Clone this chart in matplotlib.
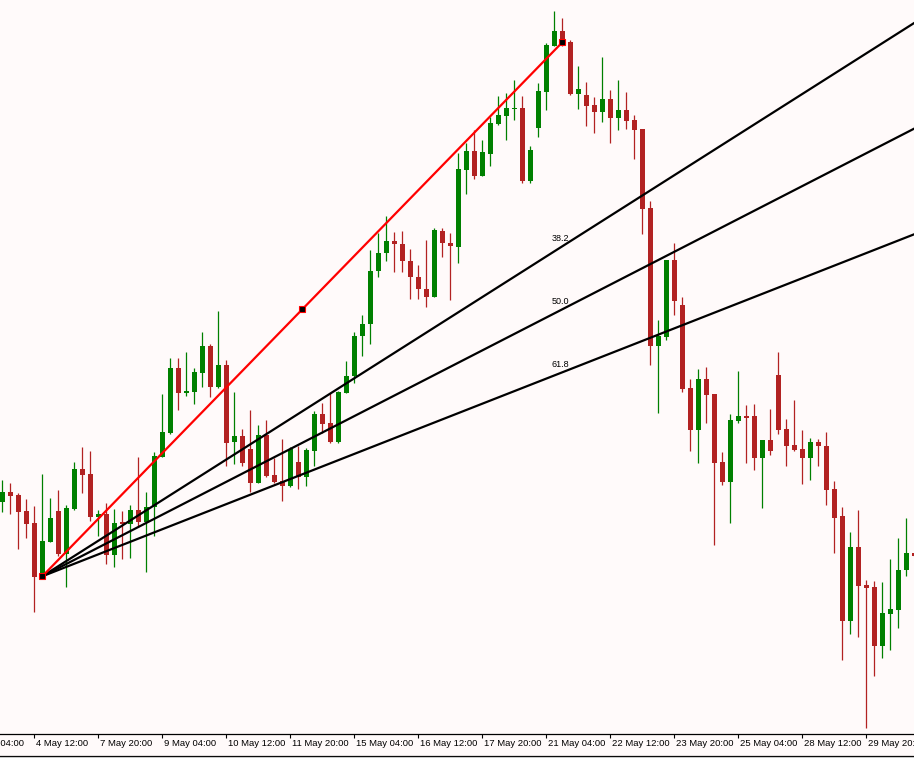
import matplotlib.pyplot as plt
import numpy as np
from matplotlib.lines import Line2D

# H4 candles, values read as levels measured down from the top of the chart
# (price = 734 - level)
lvl_open = [502, 492, 495, 511, 523, 577, 542, 511, 554, 509, 469, 474, 517, 514, 555, 522,
            524, 510, 522, 507, 457, 433, 368, 393, 392, 373, 346, 387, 365, 442, 436, 449,
            483, 435, 475, 481, 486, 462, 477, 451, 414, 423, 442, 393, 376, 336, 324, 271,
            253, 241, 244, 261, 277, 289, 297, 231, 243, 247, 170, 151, 176, 154, 124, 116,
            109, 108, 181, 128, 92, 46, 31, 42, 94, 95, 105, 112, 99, 118, 110, 120,
            129, 208, 346, 337, 260, 305, 388, 430, 379, 394, 462, 482, 421, 416, 416, 458,
            440, 375, 429, 445, 449, 458, 442, 446, 489, 516, 621, 547, 585, 587, 646, 614,
            610, 570, 553]
lvl_high = [480, 483, 493, 499, 506, 474, 498, 490, 505, 462, 447, 451, 510, 503, 509, 511,
            505, 457, 492, 452, 394, 358, 358, 352, 368, 332, 344, 311, 360, 392, 429, 410,
            425, 420, 458, 439, 447, 446, 448, 411, 403, 393, 391, 361, 332, 315, 250, 233,
            216, 232, 231, 249, 265, 240, 228, 228, 233, 153, 143, 130, 140, 117, 96, 93,
            80, 96, 146, 83, 43, 11, 18, 40, 66, 82, 97, 57, 90, 80, 92, 115,
            129, 201, 320, 260, 243, 297, 379, 369, 367, 394, 452, 414, 371, 405, 404, 440,
            409, 352, 419, 400, 430, 438, 439, 432, 481, 507, 532, 510, 580, 581, 582, 559,
            538, 518, 553]
lvl_low = [512, 514, 549, 538, 612, 577, 542, 556, 587, 510, 493, 521, 536, 564, 567, 559,
           558, 527, 572, 536, 457, 434, 410, 396, 404, 387, 397, 388, 466, 464, 466, 492,
           483, 477, 483, 501, 487, 489, 486, 466, 433, 443, 443, 393, 383, 356, 344, 277,
           261, 272, 272, 299, 299, 307, 297, 257, 300, 263, 194, 179, 176, 166, 125, 140,
           120, 183, 183, 137, 110, 46, 46, 95, 109, 126, 133, 122, 143, 130, 129, 159,
           234, 365, 413, 340, 315, 392, 451, 463, 423, 545, 485, 523, 423, 463, 470, 508,
           455, 434, 466, 451, 484, 480, 466, 505, 553, 660, 634, 637, 728, 676, 658, 650,
           628, 576, 556]
lvl_close = [492, 496, 512, 524, 577, 541, 518, 554, 508, 469, 475, 517, 514, 555, 523, 524,
             510, 522, 507, 456, 432, 368, 393, 391, 372, 346, 387, 365, 443, 436, 463, 483,
             435, 476, 482, 486, 449, 477, 450, 414, 424, 442, 392, 376, 336, 324, 271, 253,
             241, 244, 261, 277, 289, 297, 230, 243, 246, 169, 151, 176, 152, 123, 115, 108,
             108, 181, 150, 91, 45, 31, 43, 94, 89, 106, 112, 99, 118, 110, 121, 130,
             209, 346, 336, 260, 301, 389, 430, 379, 395, 463, 482, 420, 416, 418, 458, 440,
             451, 430, 446, 450, 458, 442, 446, 490, 518, 621, 547, 586, 588, 646, 613, 609,
             570, 553, 556]

tick_idx = [-4, 4, 12, 20, 28, 36, 44, 52, 60, 68, 76, 84, 92, 100, 108]
tick_labels = ['3 May 04:00', '4 May 12:00', '7 May 20:00', '9 May 04:00', '10 May 12:00',
               '11 May 20:00', '15 May 04:00', '16 May 12:00', '17 May 20:00', '21 May 04:00',
               '22 May 12:00', '23 May 20:00', '25 May 04:00', '28 May 12:00', '29 May 20:00']

# Fibonacci fan: two anchor points (candle index, price) and levels
fan_t = [5, 70]
fan_p = [157.7, 691.7]
fan_levels = [38.2, 50.0, 61.8]

TOP = 734
o = TOP - np.array(lvl_open, float)
h = TOP - np.array(lvl_high, float)
l = TOP - np.array(lvl_low, float)
c = TOP - np.array(lvl_close, float)
idx = np.arange(len(o))

bg = '#fffafa'
up_col = '#008000'
dn_col = '#b22222'

fig = plt.figure(figsize=(9.14, 7.58), dpi=100, facecolor=bg)
ax = fig.add_axes([0, 24 / 758, 1, 734 / 758])
ax.set_facecolor(bg)

cols = np.where(c >= o, up_col, dn_col)
ax.vlines(idx, l, h, colors=cols, lw=0.9, zorder=2)
body = np.maximum(np.abs(c - o), 1.0)
ax.bar(idx, body, bottom=np.minimum(o, c), width=0.625, color=cols, lw=0, zorder=3)

# fan lines
x_end = 120
for lev in fan_levels:
    p_lev = fan_p[1] - lev / 100 * (fan_p[1] - fan_p[0])
    slope = (p_lev - fan_p[0]) / (fan_t[1] - fan_t[0])
    ax.plot([fan_t[0], x_end], [fan_p[0], fan_p[0] + slope * (x_end - fan_t[0])],
            color='black', lw=1.6, zorder=4, solid_capstyle='butt')
    ax.text(fan_t[1] - 1.3, p_lev + 3.5, '%.1f' % lev, fontsize=6.5,
            family='Liberation Sans', ha='left', va='bottom', zorder=5)

ax.plot(fan_t, fan_p, color='red', lw=1.6, zorder=5)
mid_t = (fan_t[0] + fan_t[1]) / 2
mid_p = (fan_p[0] + fan_p[1]) / 2
ax.plot([fan_t[0], mid_t, fan_t[1]], [fan_p[0], mid_p, fan_p[1]], ls='none', marker='s',
        ms=4.3, mfc='black', mec='red', mew=0.8, zorder=6)

ax.set_xlim(-2.3 / 8, -2.3 / 8 + 914 / 8)
ax.set_ylim(0, TOP)

for s in ['top', 'left', 'right']:
    ax.spines[s].set_visible(False)
ax.spines['bottom'].set_linewidth(0.9)
ax.set_yticks([])
vis = [t for t in tick_idx if t >= 0]
ax.set_xticks(vis)
ax.set_xticklabels([])
ax.tick_params(axis='x', direction='out', length=3, width=0.8, color='black')

for t, lab in zip(tick_idx, tick_labels):
    ax.annotate(lab, xy=(t, 0), xycoords=('data', 'axes fraction'), xytext=(1.5, -3.3),
                textcoords='offset points', ha='left', va='top', fontsize=6.8,
                family='Liberation Sans', annotation_clip=False)

fig.add_artist(Line2D([0, 1], [2.5 / 758, 2.5 / 758], color='black', lw=0.9))
fig.add_artist(Line2D([0, 1], [1.2 / 758, 1.2 / 758], color='#c8c8c8', lw=0.8))

fig.savefig('out.png', dpi=100, facecolor=bg)
